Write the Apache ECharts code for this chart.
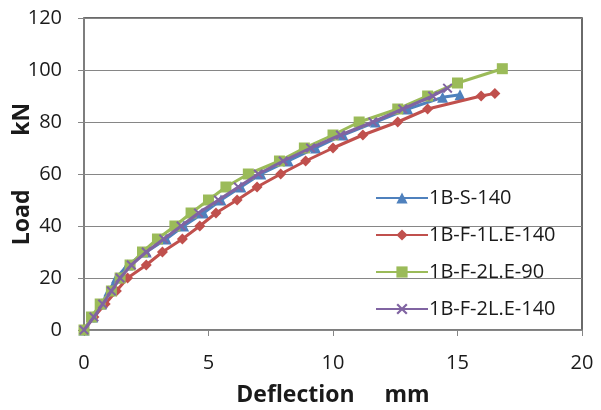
<!DOCTYPE html>
<html><head><meta charset="utf-8">
<script src="https://cdn.jsdelivr.net/npm/echarts@6/dist/echarts.min.js"></script>
<style>html,body{margin:0;padding:0;background:#fff}#c{width:601px;height:410px}</style>
</head><body><div id="c"></div>
<script>
var seriesNames = ['1B-S-140', '1B-F-1L.E-140', '1B-F-2L.E-90', '1B-F-2L.E-140'];
// [deflection mm, load kN]
var s140 = [[0,0],[0.35,5],[0.7,10],[1.0,15],[1.3,20],[1.75,25],[2.5,30],[3.3,35],[4.0,40],[4.8,45],[5.5,50],[6.3,55],[7.1,60],[8.2,65],[9.3,70],[10.4,75],[11.7,80],[13.0,85],[14.4,89.5],[15.1,90.5]];
var f1l140 = [[0,0],[0.4,5],[0.85,10],[1.3,15],[1.75,20],[2.5,25],[3.15,30],[3.95,35],[4.65,40],[5.3,45],[6.15,50],[6.95,55],[7.9,60],[8.9,65],[10.0,70],[11.2,75],[12.6,80],[13.8,85],[15.95,90],[16.5,91]];
var f2l90 = [[0,0],[0.3,5],[0.65,10],[1.1,15],[1.45,20],[1.85,25],[2.35,30],[2.95,35],[3.65,40],[4.3,45],[5.0,50],[5.7,55],[6.6,60],[7.85,65],[8.85,70],[10.0,75],[11.05,80],[12.6,85],[13.8,90],[15.0,95],[16.8,100.5]];
var f2l140 = [[0,0],[0.4,5],[0.75,10],[1.1,15],[1.45,20],[1.9,25],[2.5,30],[3.2,35],[3.9,40],[4.6,45],[5.4,50],[6.2,55],[7.0,60],[8.0,65],[9.1,70],[10.3,75],[11.6,80],[12.8,85],[14.0,90],[14.6,93]];
var xTicks = [0,5,10,15,20];
var yTicks = [0,20,40,60,80,100,120];

var colors = ['#4F81BD','#C0504D','#9BBB59','#8064A2'];
var xSym = 'path://M0,1.4L1.4,0L10,8.6L8.6,10Z M8.6,0L10,1.4L1.4,10L0,8.6Z';
var font = 'Open Sans, Liberation Sans, sans-serif';
function mk(i, data, sym, size){
  return {name: seriesNames[i], type:'line', data:data, symbol:sym, symbolSize:size,
    lineStyle:{width:3,color:colors[i]}, itemStyle:{color:colors[i]}, z: 2+i, animation:false};
}
var chart = echarts.init(document.getElementById('c'));
chart.setOption({
  animation:false,
  textStyle:{fontFamily:font},
  grid:{left:84,right:19,top:18,bottom:80,containLabel:false,outerBoundsMode:'none',show:true,borderColor:'#3a3a3a',borderWidth:1.5,backgroundColor:'transparent'},
  legend:{orient:'vertical',left:370,top:183,itemWidth:52,itemHeight:14,itemGap:17,
    textStyle:{fontSize:20,color:'#1a1a1a',fontFamily:font,padding:[0,0,0,-4]},
    data:seriesNames.map(function(n,i){return {name:n};})},
  xAxis:{type:'value',min:xTicks[0],max:xTicks[xTicks.length-1],interval:5,
    name:'Deflection     mm',nameLocation:'middle',nameGap:54,nameMoveOverlap:false,
    nameTextStyle:{fontSize:23,fontWeight:'bold',color:'#1a1a1a',fontFamily:font},
    axisLine:{show:true,onZero:false,lineStyle:{color:'#868686',width:1.5}},
    axisTick:{show:true,length:6,lineStyle:{color:'#868686'}},
    axisLabel:{fontSize:20,color:'#1a1a1a',margin:23},
    splitLine:{show:false}},
  yAxis:{type:'value',min:yTicks[0],max:yTicks[yTicks.length-1],interval:20,
    name:'Load         kN',nameLocation:'middle',nameGap:50,nameMoveOverlap:false,
    nameTextStyle:{fontSize:23,fontWeight:'bold',color:'#1a1a1a',fontFamily:font},
    axisLine:{show:true,lineStyle:{color:'#868686',width:1.5}},
    axisTick:{show:true,length:6,lineStyle:{color:'#868686'}},
    axisLabel:{fontSize:20,color:'#1a1a1a',margin:22},
    splitLine:{show:true,lineStyle:{color:'#868686',width:1.2}}},
  series:[
    mk(0,s140,'triangle',11),
    mk(1,f1l140,'diamond',11),
    mk(2,f2l90,'rect',11),
    mk(3,f2l140,xSym,10)
  ]
});
</script></body></html>
